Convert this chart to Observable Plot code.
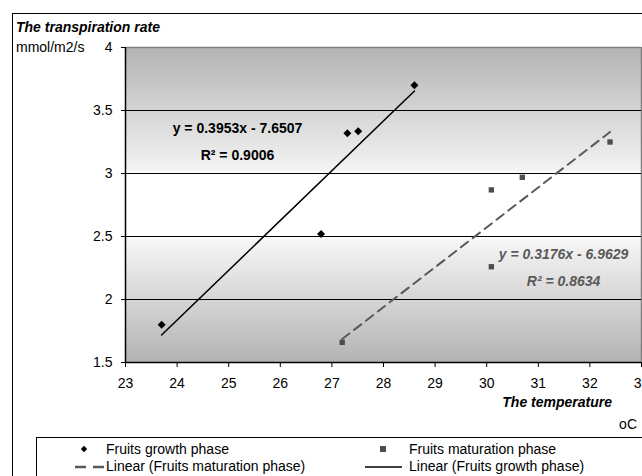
<!DOCTYPE html>
<html>
<head>
<meta charset="utf-8">
<script src="https://cdn.jsdelivr.net/npm/d3@7"></script>
<script src="https://cdn.jsdelivr.net/npm/@observablehq/plot@0.6"></script>
<style>
  body { margin: 0; background: #fff; font-family: "Liberation Sans", Arial, sans-serif; }
  #wrap { position: relative; width: 642px; height: 476px; overflow: hidden; background: #fff; }
  #outer { position: absolute; left: 12px; top: 13px; width: 700px; height: 500px; border: 1px solid #000; box-sizing: border-box; }
  #chart { position: absolute; left: 0; top: 0; }
  .lbl { position: absolute; white-space: nowrap; font-size: 14px; color: #000; line-height: 16px; }
  .bi { font-weight: bold; font-style: italic; }
  #legend { position: absolute; left: 36px; top: 437px; width: 640px; height: 60px; border: 1px solid #000; box-sizing: border-box; background: #fff; }
  .item { position: absolute; font-size: 14px; line-height: 16px; white-space: nowrap; }
  .sym { position: absolute; }
</style>
</head>
<body>
<div id="wrap">
  <div id="outer"></div>
  <div id="chart"></div>
  <div class="lbl bi" id="title" style="left:16px; top:19px;"></div>
  <div class="lbl" id="unitY" style="left:16px; top:39px;"></div>
  <div class="lbl bi" id="titleX" style="right:30px; top:394px;"></div>
  <div class="lbl" id="unitX" style="right:5px; top:416px;"></div>
  <div id="legend"></div>
</div>
<script>
// ---- data ----
const growthTemp = [23.7, 26.79, 27.3, 27.51, 28.6];
const growthRate = [1.80, 2.52, 3.32, 3.335, 3.70];
const maturationTemp = [27.2, 30.09, 30.09, 30.69, 32.39];
const maturationRate = [1.66, 2.26, 2.87, 2.97, 3.25];
const xTicks = [23, 24, 25, 26, 27, 28, 29, 30, 31, 32, 33];
const yTicks = [1.5, 2, 2.5, 3, 3.5, 4];
const gridValues = [2, 2.5, 3, 3.5];
const growthEquation = ["y = 0.3953x - 7.6507", "R² = 0.9006"];
const maturationEquation = ["y = 0.3176x - 6.9629", "R² = 0.8634"];
const seriesNames = ["Fruits growth phase", "Fruits maturation phase",
  "Linear (Fruits maturation phase)", "Linear (Fruits growth phase)"];
const titleText = "The transpiration rate";
const yUnit = "mmol/m2/s";
const xTitle = "The temperature";
const xUnit = "oC";

// ---- chart ----
const plot = Plot.plot({
  width: 642,
  height: 437,
  marginLeft: 125,
  marginRight: 1,
  marginTop: 47,
  marginBottom: 75,
  style: { fontFamily: "Liberation Sans, Arial, sans-serif", fontSize: "14px", background: "transparent", overflow: "visible" },
  x: { domain: [23, 33] },
  y: { domain: [1.5, 4] },
  marks: [
    Plot.frame({ fill: "url(#bgGrad)", stroke: "none" }),
    Plot.ruleY([4], { stroke: "#7f7f7f", strokeWidth: 1.5 }),
    Plot.ruleX([33], { stroke: "#7f7f7f", strokeWidth: 1.5 }),
    Plot.ruleY(gridValues, { stroke: "#000", strokeWidth: 1 }),
    Plot.ruleX([23], { stroke: "#000", strokeWidth: 1.5 }),
    Plot.ruleY([1.5], { stroke: "#000", strokeWidth: 1.5 }),
    Plot.axisX(xTicks, { anchor: "bottom", tickSize: 5, tickPadding: 11, label: null, fontSize: 14, stroke: "#000", tickFormat: d => String(d) }),
    Plot.axisY(yTicks, { anchor: "left", tickSize: 4, tickPadding: 9, label: null, fontSize: 14, stroke: "#000", tickFormat: d => String(d) }),
    Plot.linearRegressionY(maturationTemp, { x: maturationTemp, y: maturationRate, ci: 0, stroke: "#595959", strokeWidth: 2, strokeDasharray: "9,6" }),
    Plot.linearRegressionY(growthTemp, { x: growthTemp, y: growthRate, ci: 0, stroke: "#000", strokeWidth: 1.5 }),
    Plot.dot(growthTemp, { x: growthTemp, y: growthRate, symbol: "diamond2", r: 3.6, fill: "#000", stroke: "none" }),
    Plot.dot(maturationTemp, { x: maturationTemp, y: maturationRate, symbol: "square2", r: 3.4, fill: "#4d4d4d", stroke: "none" }),
    Plot.text([growthEquation[0]], { x: 25.17, y: 3.357, text: d => d, fontWeight: "bold", fontSize: 14, fill: "#000" }),
    Plot.text([growthEquation[1]], { x: 25.17, y: 3.14, text: d => d, fontWeight: "bold", fontSize: 14, fill: "#000" }),
    Plot.text([maturationEquation[0]], { x: 31.49, y: 2.357, text: d => d, fontWeight: "bold", fontStyle: "italic", fontSize: 14, fill: "#595959" }),
    Plot.text([maturationEquation[1]], { x: 31.49, y: 2.14, text: d => d, fontWeight: "bold", fontStyle: "italic", fontSize: 14, fill: "#595959" })
  ]
});

// gradient background for the plot area
const svg = d3.select(plot);
const defs = svg.insert("defs", ":first-child");
const grad = defs.append("linearGradient").attr("id", "bgGrad").attr("x1", 0).attr("y1", 0).attr("x2", 0).attr("y2", 1);
[[0, "#b3b3b3"], [0.39, "#f3f3f3"], [0.4, "#ffffff"], [0.6, "#ffffff"], [0.61, "#f6f6f6"], [1, "#b3b3b3"]]
  .forEach(([o, c]) => grad.append("stop").attr("offset", o).attr("stop-color", c));

document.getElementById("chart").appendChild(plot);

document.getElementById("title").textContent = titleText;
document.getElementById("unitY").textContent = yUnit;
document.getElementById("titleX").textContent = xTitle;
document.getElementById("unitX").textContent = xUnit;

// ---- legend ----
const legend = document.getElementById("legend");
const ns = "http://www.w3.org/2000/svg";
function addItem(textLeft, top, text, symbolDraw) {
  const s = document.createElementNS(ns, "svg");
  s.setAttribute("class", "sym");
  s.setAttribute("width", 44);
  s.setAttribute("height", 16);
  s.style.left = (textLeft - 44) + "px";
  s.style.top = top + "px";
  symbolDraw(d3.select(s));
  legend.appendChild(s);
  const t = document.createElement("div");
  t.className = "item";
  t.style.left = textLeft + "px";
  t.style.top = top + "px";
  t.textContent = text;
  legend.appendChild(t);
}
addItem(69, 3, seriesNames[0], g => g.append("path").attr("d", d3.symbol(d3.symbolDiamond2, 26)()).attr("transform", "translate(22,8)").attr("fill", "#000"));
addItem(372, 3, seriesNames[1], g => g.append("rect").attr("x", 15).attr("y", 5).attr("width", 6).attr("height", 6).attr("fill", "#4d4d4d"));
addItem(69, 20, seriesNames[2], g => g.append("line").attr("x1", 13).attr("x2", 42).attr("y1", 9).attr("y2", 9).attr("stroke", "#595959").attr("stroke-width", 2.5).attr("stroke-dasharray", "11,7"));
addItem(372, 20, seriesNames[3], g => g.append("line").attr("x1", 0).attr("x2", 37).attr("y1", 9).attr("y2", 9).attr("stroke", "#000").attr("stroke-width", 1.5));
</script>
</body>
</html>
